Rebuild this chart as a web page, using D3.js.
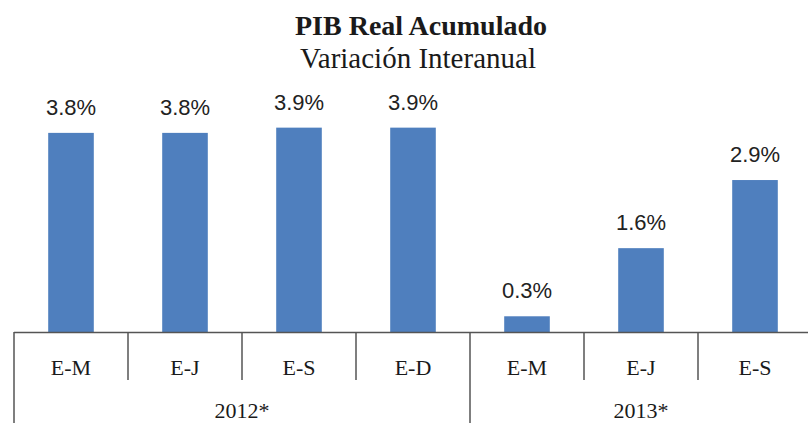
<!DOCTYPE html>
<html><head><meta charset="utf-8">
<script src="https://cdn.jsdelivr.net/npm/d3@7"></script>
<style>body{margin:0;background:#fff}svg{display:block}</style>
</head><body>
<svg id="chart" width="808" height="423"></svg>
<script>
const categories = ["E-M","E-J","E-S","E-D","E-M","E-J","E-S"];
const values = [3.8, 3.8, 3.9, 3.9, 0.3, 1.6, 2.9];
const labels = ["3.8%","3.8%","3.9%","3.9%","0.3%","1.6%","2.9%"];
const years = ["2012*","2013*"];
const yearCounts = [4, 3];

const svg = d3.select("#chart");
const W = 808, H = 423;
const left = 14, right = 812, base = 332;
const idx = d3.range(categories.length);

const cell = d3.scaleBand().domain(idx).range([left, right]).padding(0);
const x = d3.scaleBand().domain(idx).range([left, right]).paddingInner(0.6).paddingOuter(0.3);
const y = d3.scaleLinear().domain([0, 4]).range([base, base - 4 * 52.4]);

svg.append("text").attr("x", 421).attr("y", 35).attr("text-anchor", "middle")
  .attr("font-family", "Liberation Serif").attr("font-weight", "bold").attr("font-size", 28)
  .attr("fill", "#1a1a1a").text("PIB Real Acumulado");
svg.append("text").attr("x", 418).attr("y", 68).attr("text-anchor", "middle")
  .attr("font-family", "Liberation Serif").attr("font-size", 29)
  .attr("fill", "#1a1a1a").text("Variación Interanual");

svg.selectAll("rect.bar").data(values).join("rect").attr("class", "bar")
  .attr("x", (d, i) => x(i)).attr("width", x.bandwidth())
  .attr("y", d => y(d)).attr("height", d => y(0) - y(d))
  .attr("fill", "#4f7fbe");

svg.selectAll("text.lbl").data(values).join("text").attr("class", "lbl")
  .attr("x", (d, i) => x(i) + x.bandwidth() / 2).attr("y", d => y(d) - 18)
  .attr("text-anchor", "middle").attr("font-family", "Liberation Sans").attr("font-size", 22)
  .attr("fill", "#222").text((d, i) => labels[i]);

const lc = "#555";
svg.append("line").attr("x1", left).attr("x2", W).attr("y1", base + 0.5).attr("y2", base + 0.5)
  .attr("stroke", lc).attr("stroke-width", 1.5);
svg.append("line").attr("x1", left).attr("x2", left).attr("y1", base).attr("y2", H)
  .attr("stroke", lc).attr("stroke-width", 1.5);

const groupEnds = d3.cumsum(yearCounts);
idx.slice(1).forEach(i => {
  const isGroup = groupEnds.includes(i);
  svg.append("line").attr("x1", cell(i)).attr("x2", cell(i))
    .attr("y1", base).attr("y2", isGroup ? H : 380)
    .attr("stroke", lc).attr("stroke-width", 1.5);
});

svg.selectAll("text.cat").data(categories).join("text").attr("class", "cat")
  .attr("x", (d, i) => cell(i) + cell.bandwidth() / 2).attr("y", 375)
  .attr("text-anchor", "middle").attr("font-family", "Liberation Serif").attr("font-size", 22)
  .attr("fill", "#1a1a1a").text(d => d);

let start = 0;
years.forEach((yr, k) => {
  const s = cell(start), e = cell(start + yearCounts[k] - 1) + cell.bandwidth();
  svg.append("text").attr("x", (s + e) / 2).attr("y", 418).attr("text-anchor", "middle")
    .attr("font-family", "Liberation Serif").attr("font-size", 22).attr("fill", "#1a1a1a").text(yr);
  start += yearCounts[k];
});
</script>
</body></html>
